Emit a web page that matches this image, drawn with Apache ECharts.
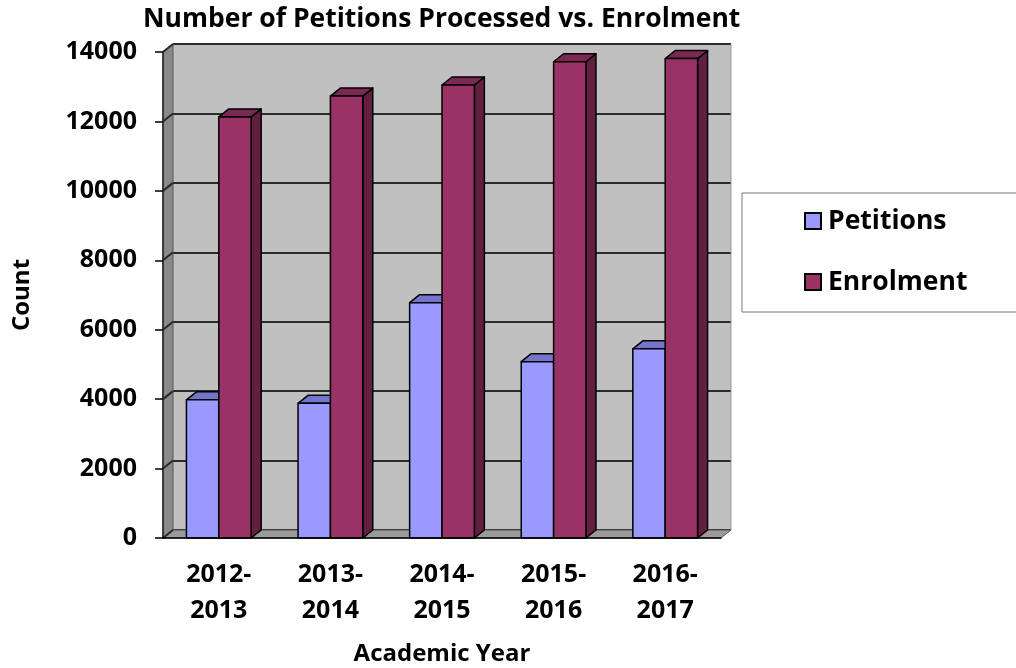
<!DOCTYPE html>
<html>
<head>
<meta charset="utf-8">
<script src="https://cdn.jsdelivr.net/npm/echarts@6/dist/echarts.min.js"></script>
<style>
    html, body { margin: 0; padding: 0; background: #fff; }
    #chart { width: 1016px; height: 668px; }
</style>
</head>
<body>
<div id="chart"></div>
<script>
    // data
    const years = ['2012-\n2013', '2013-\n2014', '2014-\n2015', '2015-\n2016', '2016-\n2017'];
    const petitions = [3980, 3880, 6780, 5080, 5450];
    const enrolment = [12130, 12730, 13050, 13720, 13810];
    const yTicks = [0, 2000, 4000, 6000, 8000, 10000, 12000, 14000];

    // front plane of the plot and the 3d depth
    const L = 163, R = 721, T = 52, B = 538;
    const DX = 10, DY = 8;
    const FONT = 'Open Sans';

    const faces = {
        Petitions: { front: '#9999ff', top: '#7474cc', side: '#5c5cb0' },
        Enrolment: { front: '#993366', top: '#7b2954', side: '#621f42' }
    };

    function barRender(name, side) {
        return function (params, api) {
            let top = api.coord([api.value(0), api.value(1)]);
            let base = api.coord([api.value(0), 0]);
            let bw = api.size([1, 0])[0] * 0.29;
            let x0 = side === 0 ? top[0] - bw : top[0];
            let x1 = x0 + bw;
            let y = top[1], y0 = base[1];
            let c = faces[name];
            let st = { stroke: '#000', lineWidth: 1.5, lineJoin: 'round' };
            return {
                type: 'group',
                children: [
                    { type: 'polygon', shape: { points: [[x1, y], [x1 + DX, y - DY], [x1 + DX, y0 - DY], [x1, y0]] },
                      style: Object.assign({ fill: c.side }, st) },
                    { type: 'polygon', shape: { points: [[x0, y], [x1, y], [x1 + DX, y - DY], [x0 + DX, y - DY]] },
                      style: Object.assign({ fill: c.top }, st) },
                    { type: 'rect', shape: { x: x0, y: y, width: x1 - x0, height: y0 - y },
                      style: Object.assign({ fill: c.front }, st) }
                ]
            };
        };
    }

    let chartDom = document.getElementById('chart');
    let myChart = echarts.init(chartDom);

    let option = {
        backgroundColor: '#fff',
        animation: false,
        textStyle: { fontFamily: FONT },
        title: {
            text: 'Number of Petitions Processed vs. Enrolment',
            left: 138,
            top: 1,
            textStyle: { fontFamily: FONT, fontSize: 26.5, fontWeight: 'bold', color: '#000' }
        },
        legend: {
            orient: 'vertical',
            left: 742,
            top: 193,
            data: ['Petitions', 'Enrolment'],
            icon: 'rect',
            itemWidth: 16,
            itemHeight: 16,
            itemGap: 31,
            padding: [13, 80, 15, 62],
            backgroundColor: '#fff',
            borderColor: '#777',
            borderWidth: 1,
            borderRadius: 0,
            itemStyle: { borderColor: '#000', borderWidth: 2 },
            textStyle: { fontFamily: FONT, fontSize: 26.5, fontWeight: 'bold', color: '#000', lineHeight: 30, padding: [0, 0, 0, 2] }
        },
        grid: [
            { left: L, right: 1016 - R, top: T, bottom: 668 - B, outerBoundsMode: 'none' },
            { left: L + DX, right: 1016 - R - DX, top: T - DY, bottom: 668 - B + DY, outerBoundsMode: 'none',
              show: true, backgroundColor: '#c0c0c0', borderWidth: 0 }
        ],
        xAxis: [
            {
                type: 'category',
                gridIndex: 0,
                data: years,
                z: 10,
                name: 'Academic Year',
                nameLocation: 'middle',
                nameGap: 104,
                nameTextStyle: { fontFamily: FONT, fontSize: 24, fontWeight: 'bold', color: '#000' },
                axisLine: { lineStyle: { color: '#000', width: 1.5 } },
                axisTick: { length: 8, lineStyle: { color: '#000', width: 1.5 } },
                axisLabel: { interval: 0, margin: 19, fontFamily: FONT, fontSize: 25, fontWeight: 'bold', color: '#000', lineHeight: 36 }
            },
            { type: 'category', gridIndex: 1, data: years, show: false }
        ],
        yAxis: [
            {
                type: 'value',
                gridIndex: 0,
                min: 0,
                max: 14000,
                interval: 2000,
                z: 10,
                name: 'Count',
                nameLocation: 'middle',
                nameGap: 129,
                nameTextStyle: { fontFamily: FONT, fontSize: 24, fontWeight: 'bold', color: '#000' },
                axisLine: { show: true, lineStyle: { color: '#222', width: 1.5 } },
                axisTick: { show: true, length: 8, lineStyle: { color: '#000', width: 1.5 } },
                axisLabel: { margin: 26, fontFamily: FONT, fontSize: 25, fontWeight: 'bold', color: '#000', formatter: v => String(v) },
                splitLine: { show: false }
            },
            {
                type: 'value',
                gridIndex: 1,
                min: 0,
                max: 14000,
                interval: 2000,
                axisLine: { show: false },
                axisTick: { show: false },
                axisLabel: { show: false },
                splitLine: { show: true, lineStyle: { color: '#2a2a2a', width: 2 } }
            }
        ],
        series: [
            {
                name: 'Petitions',
                type: 'custom',
                xAxisIndex: 0,
                yAxisIndex: 0,
                z: 5,
                itemStyle: { color: faces.Petitions.front },
                renderItem: barRender('Petitions', 0),
                data: petitions.map((v, i) => [i, v])
            },
            {
                name: 'Enrolment',
                type: 'custom',
                xAxisIndex: 0,
                yAxisIndex: 0,
                z: 6,
                itemStyle: { color: faces.Enrolment.front },
                renderItem: barRender('Enrolment', 1),
                data: enrolment.map((v, i) => [i, v])
            }
        ]
    };

    myChart.setOption(option);

    // side wall, floor and the grid lines that run across the side wall
    let walls = [
        { type: 'polygon', z: 3,
          shape: { points: [[L, T], [L + DX, T - DY], [L + DX, B - DY], [L, B]] },
          style: { fill: '#8a8a8a', stroke: '#555', lineWidth: 1 } },
        { type: 'polygon', z: 3,
          shape: { points: [[L, B], [R, B], [R + DX, B - DY], [L + DX, B - DY]] },
          style: { fill: '#9a9a9a', stroke: '#555', lineWidth: 1 } },
        { type: 'line', z: 3,
          shape: { x1: R + DX, y1: T - DY, x2: R + DX, y2: B - DY },
          style: { stroke: '#999', lineWidth: 1 } }
    ];
    yTicks.forEach(v => {
        let y = myChart.convertToPixel({ yAxisIndex: 0 }, v);
        walls.push({ type: 'line', z: 4,
            shape: { x1: L, y1: y, x2: L + DX, y2: y - DY },
            style: { stroke: '#2a2a2a', lineWidth: 2 } });
    });
    myChart.setOption({ graphic: walls });
</script>
</body>
</html>
